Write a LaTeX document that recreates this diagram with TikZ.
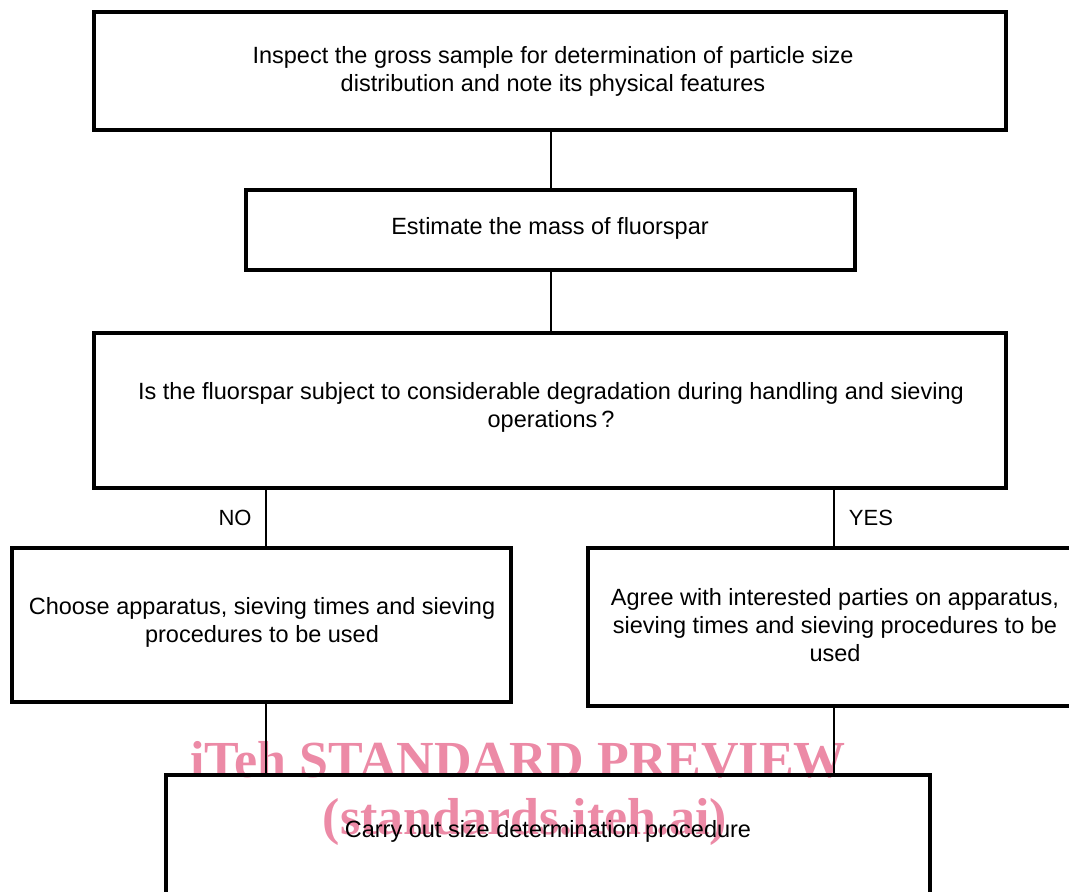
\documentclass[tikz,border=0pt]{standalone}
\usepackage{fontspec}
\setmainfont{Liberation Sans}
\newfontfamily\wmfont{Liberation Serif}
\definecolor{wmpink}{RGB}{236,138,166}
\begin{document}
\begin{tikzpicture}[x=1pt,y=-1pt,
  box/.style={draw,line width=3.2pt},
  conn/.style={line width=1.6pt},
  txt/.style={align=center,font=\fontsize{23.5}{28}\selectfont,inner sep=0pt},
  lbl/.style={font=\fontsize{22}{26}\selectfont,inner sep=0pt},
  wm/.style={text=wmpink,font=\wmfont\bfseries\fontsize{52}{60}\selectfont,inner sep=0pt}]
\useasboundingbox (0,0) rectangle (1069,892);
\begin{scope}
\clip (0,0) rectangle (1069,892);
% watermark (behind the drawing)
\node[wm] (wm1) at (518,760) {iTeh STANDARD PREVIEW};
\node[wm] (wm2) at (525,822) {(standards.iteh.ai)};
% boxes
\draw[box] (94,12) rectangle (1006,130);
\coordinate (b1s) at (551,130);
\draw[box] (246,190) rectangle (855,270);
\coordinate (b2n) at (551,190);
\coordinate (b2s) at (551,270);
\draw[box] (94,333) rectangle (1006,488);
\coordinate (b3n) at (551,333);
\coordinate (b3sl) at (266,488);
\coordinate (b3sr) at (834,488);
\draw[box] (12,548) rectangle (511,702);
\coordinate (b4n) at (266,548);
\coordinate (b4s) at (266,702);
\draw[box] (588,548) rectangle (1090,706);
\coordinate (b5n) at (834,548);
\coordinate (b5s) at (834,706);
\draw[box] (166,775) rectangle (930,905);
\coordinate (b6nl) at (266,775);
\coordinate (b6nr) at (834,775);
% texts
\node[txt] (t1) at (553,71) {Inspect the gross sample for determination of particle size\\distribution and note its physical features};
\node[txt] (t2) at (550,228) {Estimate the mass of fluorspar};
\node[txt] (t3) at (551,407) {Is the fluorspar subject to considerable degradation during handling and sieving\\operations\,?};
\node[txt] (t4) at (262,622) {Choose apparatus, sieving times and sieving\\procedures to be used};
\node[txt] (t5) at (835,625) {Agree with interested parties on apparatus,\\sieving times and sieving procedures to be\\used};
\node[txt] (t6) at (548,831) {Carry out size determination procedure};
% connectors
\draw[conn] (b1s) -- (b2n);
\draw[conn] (b2s) -- (b3n);
\draw[conn] (b3sl) -- (b4n);
\draw[conn] (b3sr) -- (b5n);
\draw[conn] (b4s) -- (b6nl);
\draw[conn] (b5s) -- (b6nr);
\node[lbl] (no) at (235,518) {NO};
\node[lbl] (yes) at (871,518) {YES};
\end{scope}
\end{tikzpicture}
\end{document}
